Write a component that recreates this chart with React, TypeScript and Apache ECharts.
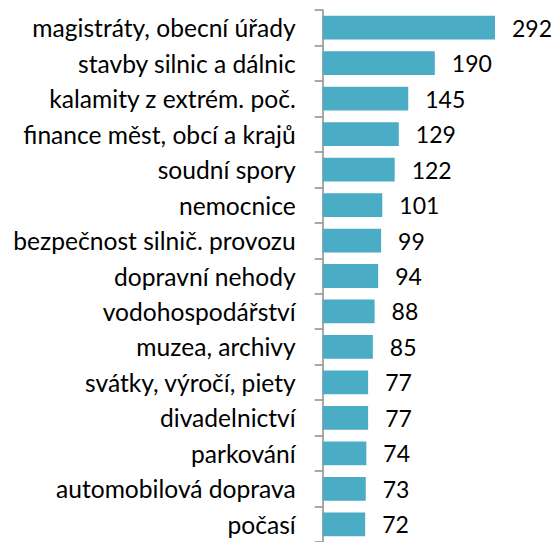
import React, { useEffect, useRef } from "react";
import * as echarts from "echarts";

const categories: string[] = [
  "magistráty, obecní úřady",
  "stavby silnic a dálnic",
  "kalamity z extrém. poč.",
  "finance měst, obcí a krajů",
  "soudní spory",
  "nemocnice",
  "bezpečnost silnič. provozu",
  "dopravní nehody",
  "vodohospodářství",
  "muzea, archivy",
  "svátky, výročí, piety",
  "divadelnictví",
  "parkování",
  "automobilová doprava",
  "počasí",
];

const values: number[] = [292, 190, 145, 129, 122, 101, 99, 94, 88, 85, 77, 77, 74, 73, 72];

const FONT = "Lato, 'Open Sans', sans-serif";

export default function App() {
  const ref = useRef<HTMLDivElement>(null);
  useEffect(() => {
    if (!ref.current) return;
    const chart = echarts.init(ref.current, undefined, { renderer: "svg" });
    chart.setOption({
      animation: false,
      backgroundColor: "#ffffff",
      grid: { left: 322.7, top: 10, width: 177, height: 535.7, containLabel: false },
      xAxis: {
        type: "value",
        min: 0,
        max: 300,
        show: false,
      },
      yAxis: {
        type: "category",
        data: categories,
        inverse: true,
        axisLine: { show: true, lineStyle: { color: "#8c8c8c", width: 1.5 } },
        axisTick: { show: true, length: 8, lineStyle: { color: "#8c8c8c", width: 1.5 } },
        axisLabel: { margin: 27, color: "#000", fontSize: 24.6, fontFamily: FONT },
        splitLine: { show: false },
      },
      series: [
        {
          type: "bar",
          data: values,
          barCategoryGap: "33%",
          itemStyle: { color: "#4bacc6" },
          label: {
            show: true,
            position: "right",
            distance: 17,
            color: "#000",
            fontSize: 23,
            fontFamily: FONT,
          },
        },
      ],
    });
    return () => chart.dispose();
  }, []);
  return (
    <div
      ref={ref}
      style={{ position: "fixed", left: 0, top: 0, width: 552, height: 542 }}
    />
  );
}
